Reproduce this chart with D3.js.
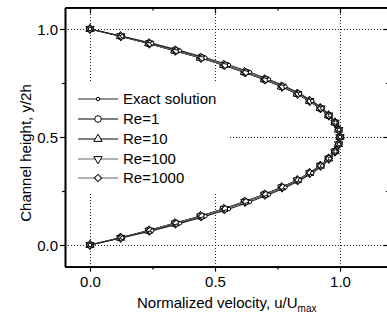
<!DOCTYPE html>
<html>
<head>
<meta charset="utf-8">
<script src="https://cdn.jsdelivr.net/npm/d3@7"></script>
<style>
  body { margin: 0; background: #fff; }
  svg { display: block; }
  text { font-family: Arial, "Liberation Sans", sans-serif; fill: #000; }
</style>
</head>
<body>
<svg id="chart" width="387" height="319"></svg>
<script>
// DATA - channel height y/2h and normalized velocity u/Umax for each case
var heights = [0, 0.0333, 0.0667, 0.1, 0.1333, 0.1667, 0.2, 0.2333, 0.2667, 0.3, 0.3333,
  0.3667, 0.4, 0.4333, 0.4667, 0.5, 0.5333, 0.5667, 0.6, 0.6333, 0.6667,
  0.7, 0.7333, 0.7667, 0.8, 0.8333, 0.8667, 0.9, 0.9333, 0.9667, 1.0];

var exactU = [0, 0.129, 0.249, 0.360, 0.462, 0.556, 0.640, 0.716, 0.782, 0.840, 0.889,
  0.929, 0.960, 0.982, 0.996, 1.000, 0.996, 0.982, 0.960, 0.929, 0.889,
  0.840, 0.782, 0.716, 0.640, 0.556, 0.462, 0.360, 0.249, 0.129, 0];

var re1U = [0, 0.121, 0.234, 0.338, 0.440, 0.533, 0.617, 0.696, 0.765, 0.828, 0.877,
  0.920, 0.953, 0.979, 0.994, 1.000, 0.994, 0.979, 0.953, 0.920, 0.877,
  0.828, 0.765, 0.696, 0.617, 0.533, 0.440, 0.338, 0.234, 0.121, 0];

var re10U = [0, 0.122, 0.235, 0.339, 0.442, 0.535, 0.618, 0.698, 0.766, 0.829, 0.878,
  0.921, 0.954, 0.980, 0.994, 1.000, 0.994, 0.980, 0.954, 0.921, 0.878,
  0.829, 0.766, 0.698, 0.618, 0.535, 0.442, 0.339, 0.235, 0.122, 0];

var re100U = [0, 0.123, 0.237, 0.341, 0.444, 0.537, 0.620, 0.699, 0.768, 0.830, 0.879,
  0.922, 0.955, 0.980, 0.995, 1.000, 0.995, 0.980, 0.955, 0.922, 0.879,
  0.830, 0.768, 0.699, 0.620, 0.537, 0.444, 0.341, 0.237, 0.123, 0];

var re1000U = [0, 0.125, 0.240, 0.345, 0.448, 0.541, 0.624, 0.703, 0.771, 0.833, 0.881,
  0.924, 0.956, 0.981, 0.995, 1.000, 0.995, 0.981, 0.956, 0.924, 0.881,
  0.833, 0.771, 0.703, 0.624, 0.541, 0.448, 0.345, 0.240, 0.125, 0];

var majorTicks = [0, 0.5, 1.0];
var minorTicks = [0.25, 0.75];

var svg = d3.select('#chart');

var x = d3.scaleLinear().domain([-0.1, 1.2]).range([65, 390]);
var y = d3.scaleLinear().domain([-0.1, 1.1]).range([266.6, 7.4]);

// grid lines (dotted)
var grid = svg.append('g').attr('class', 'grid')
  .attr('stroke', '#222').attr('stroke-width', 1).attr('stroke-dasharray', '1,2')
  .attr('shape-rendering', 'crispEdges');

grid.selectAll('line.gx').data(majorTicks).enter().append('line')
  .attr('x1', (d) => Math.round(x(d)) + 0.5).attr('x2', (d) => Math.round(x(d)) + 0.5)
  .attr('y1', y.range()[0]).attr('y2', y.range()[1]);

grid.selectAll('line.gy').data(majorTicks).enter().append('line')
  .attr('y1', (d) => Math.round(y(d)) + 0.5).attr('y2', (d) => Math.round(y(d)) + 0.5)
  .attr('x1', x.range()[0]).attr('x2', x.range()[1]);

// series
var series = [
  { name: 'Re=1', values: re1U, symbol: 'circle', line: '#000' },
  { name: 'Re=10', values: re10U, symbol: 'up', line: '#000' },
  { name: 'Re=100', values: re100U, symbol: 'down', line: '#666' },
  { name: 'Re=1000', values: re1000U, symbol: 'diamond', line: '#666' },
  { name: 'Exact solution', values: exactU, symbol: 'small', line: '#222' }
];

function drawMarker(sel, type) {
  if (type == 'circle') {
    sel.append('circle').attr('r', 3.3);
  } else if (type == 'small') {
    sel.append('circle').attr('r', 1.7);
  } else if (type == 'up') {
    sel.append('path').attr('d', d3.symbol().type(d3.symbolTriangle).size(30)());
  } else if (type == 'down') {
    sel.append('path').attr('d', d3.symbol().type(d3.symbolTriangle).size(30)())
      .attr('transform', 'rotate(180)');
  } else if (type == 'diamond') {
    sel.append('path').attr('d', d3.symbol().type(d3.symbolSquare).size(26)())
      .attr('transform', 'rotate(45)');
  }
  sel.selectAll('circle, path').attr('fill', '#fff').attr('stroke', '#000').attr('stroke-width', 1);
}

var line = d3.line()
  .x((d) => x(d[0]))
  .y((d) => y(d[1]));

series.forEach((s) => {
  var pts = s.values.map((u, i) => [u, heights[i]]);
  var g = svg.append('g').attr('class', 'series');
  g.append('path').datum(pts)
    .attr('d', line)
    .attr('fill', 'none')
    .attr('stroke', s.line)
    .attr('stroke-width', 1.1);
  var m = g.selectAll('g.mk').data(pts).enter().append('g')
    .attr('transform', (d) => `translate(${x(d[0])},${y(d[1])})`);
  drawMarker(m, s.symbol);
});

// axes
var fmt = d3.format('.1f');

var axisL = svg.append('g').attr('transform', `translate(${x.range()[0]},0)`)
  .call(d3.axisLeft(y).tickValues(majorTicks).tickSize(5).tickSizeOuter(0).tickFormat(fmt));
svg.append('g').attr('transform', `translate(${x.range()[0]},0)`)
  .call(d3.axisLeft(y).tickValues(minorTicks).tickSize(3).tickSizeOuter(0).tickFormat(''));

var axisB = svg.append('g').attr('transform', `translate(0,${y.range()[0]})`)
  .call(d3.axisBottom(x).tickValues(majorTicks).tickSize(5).tickSizeOuter(0).tickFormat(fmt));
svg.append('g').attr('transform', `translate(0,${y.range()[0]})`)
  .call(d3.axisBottom(x).tickValues(minorTicks).tickSize(3).tickSizeOuter(0).tickFormat(''));

svg.append('g').attr('transform', `translate(0,${y.range()[1]})`)
  .call(d3.axisTop(x).tickValues(majorTicks).tickSize(-6).tickSizeOuter(0).tickFormat(''));
svg.append('g').attr('transform', `translate(0,${y.range()[1]})`)
  .call(d3.axisTop(x).tickValues(minorTicks).tickSize(-3).tickSizeOuter(0).tickFormat(''));

svg.append('g').attr('transform', `translate(${x.range()[1]},0)`)
  .call(d3.axisRight(y).tickValues(majorTicks).tickSize(-6).tickSizeOuter(0).tickFormat(''));
svg.append('g').attr('transform', `translate(${x.range()[1]},0)`)
  .call(d3.axisRight(y).tickValues(minorTicks).tickSize(-4).tickSizeOuter(0).tickFormat(''));

svg.selectAll('.domain').attr('stroke', '#000').attr('stroke-width', 1.6);
svg.selectAll('.tick line').attr('stroke', '#000').attr('stroke-width', 1.2);
svg.selectAll('.tick text')
  .attr('font-size', 15)
  .attr('font-family', 'Arial, "Liberation Sans", sans-serif')
  .attr('fill', '#000');
axisL.selectAll('.tick text').attr('x', -7).attr('dy', '0.35em');
axisB.selectAll('.tick text').attr('y', 10).attr('dy', '0.71em');

// legend with white background over grid
var legendY = [99, 119, 139, 159, 178];
var legendOrder = [4, 0, 1, 2, 3];

var legend = svg.append('g').attr('class', 'legend');
legend.append('rect')
  .attr('x', 67).attr('y', 83).attr('width', 161).attr('height', 110)
  .attr('fill', '#fff');

var items = legend.selectAll('g.item').data(legendOrder).enter().append('g')
  .attr('transform', (d, i) => `translate(78,${legendY[i]})`);

items.append('line')
  .attr('x1', 0).attr('x2', 40).attr('y1', 0).attr('y2', 0)
  .attr('stroke', (d) => series[d].line).attr('stroke-width', 1.1);

items.each(function (d) {
  var mk = d3.select(this).append('g').attr('transform', 'translate(20,0)');
  drawMarker(mk, series[d].symbol);
});

items.append('text')
  .attr('x', 45).attr('y', 0).attr('dy', '0.36em')
  .attr('font-size', 15)
  .text((d) => series[d].name);

// axis titles
svg.append('text')
  .attr('transform', 'translate(31,153) rotate(-90)')
  .attr('text-anchor', 'middle')
  .attr('font-size', 15)
  .text('Channel height, y/2h');

var xt = svg.append('text')
  .attr('x', 137).attr('y', 308)
  .attr('font-size', 15)
  .text('Normalized velocity, u/U');
xt.append('tspan').attr('font-size', 10).attr('dy', 4).text('max');
</script>
</body>
</html>
